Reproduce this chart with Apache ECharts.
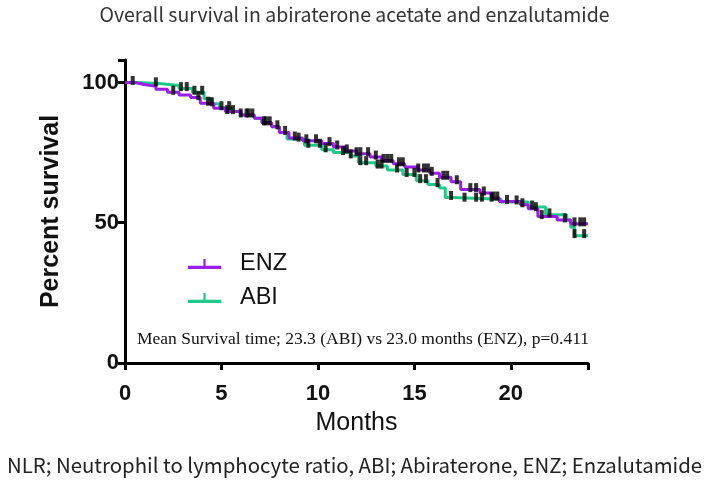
<!DOCTYPE html>
<html><head><meta charset="utf-8">
<script src="https://cdn.jsdelivr.net/npm/echarts@6/dist/echarts.min.js"></script>
<style>html,body{margin:0;padding:0;background:#fff}#c{width:709px;height:481px}</style>
</head><body><div id="c"></div>
<script>
// Kaplan-Meier step points [month, percent survival]
var enzSteps = [[0,100],[0.5,99.3],[1.0,98.6],[1.6,97.6],[2.2,96.5],[2.8,95.5],[3.4,94.6],[3.9,92.6],[4.6,90.8],[5.2,89.6],[6.0,88.4],[6.7,87.2],[7.1,85.6],[7.6,84.2],[8.0,82.2],[8.5,80.2],[9.2,79.2],[10.2,78.2],[10.8,77.0],[11.4,75.6],[12.0,74.6],[12.7,73.4],[13.3,72.2],[13.9,71.0],[14.5,69.9],[15.2,68.8],[15.8,67.6],[16.3,66.2],[16.9,64.6],[17.4,61.8],[18.4,60.6],[19.0,58.8],[19.4,57.6],[20.5,56.4],[20.9,55.0],[21.4,52.2],[22.4,51.0],[23.1,49.6],[24.0,49.6]];
var abiSteps = [[0,100],[0.7,99.5],[1.9,98.9],[2.8,97.8],[3.5,96.5],[4.1,94.2],[4.5,92.4],[4.9,91.0],[5.5,89.6],[6.0,88.4],[6.7,87.2],[7.1,85.6],[7.6,84.2],[8.0,82.2],[8.4,79.8],[9.3,77.6],[10.2,76.0],[10.8,75.0],[11.7,73.8],[12.1,71.4],[13.0,70.2],[13.6,68.8],[14.4,67.2],[15.1,65.0],[15.7,63.6],[16.3,62.4],[16.6,59.0],[17.0,58.4],[19.5,57.4],[20.9,55.6],[21.8,52.8],[22.9,51.0],[23.1,48.4],[23.3,45.4],[24.0,45.4]];
// censoring times (months)
var enzCensor = [0.4,2.5,3.8,4.3,5.3,5.6,6.0,6.3,7.2,7.5,7.9,8.8,9.4,9.9,10.6,11.0,11.5,12.0,12.2,12.6,13.0,13.4,13.6,13.8,14.2,14.4,15.2,15.5,15.7,15.9,16.5,16.7,17.2,17.9,18.2,18.6,19.1,19.3,19.8,20.6,21.3,21.6,22.8,23.3,23.6,23.8];
var abiCensor = [1.6,2.9,3.2,3.6,4.0,4.5,5.0,5.4,6.4,6.6,7.3,8.3,9.0,9.5,10.1,10.4,11.3,11.7,12.2,12.5,13.1,13.3,14.1,14.6,15.0,15.3,15.6,16.2,16.9,17.6,18.2,18.5,19.0,20.3,21.1,22.0,23.3,23.8];
var xTicks = [0,5,10,15,20];
var yTicks = [0,50,100];

function survAt(steps, t){ var v = steps[0][1]; for (var i=0;i<steps.length;i++){ if (steps[i][0] <= t) v = steps[i][1]; } return v; }
function censorPts(steps, times){ return times.map(function(t){ return [t, survAt(steps,t)]; }); }

var chart = echarts.init(document.getElementById('c'), null, {renderer:'canvas'});
var purple = '#9b1ee8', green = '#1fc98a';
var tickIcon = 'path://M0,6 L14,6 L14,0 L16,0 L16,6 L30,6 L30,9 L0,9 Z';
chart.setOption({
  animation:false,
  title:{text:'Overall survival in abiraterone acetate and enzalutamide', left:'center', top:0,
    textStyle:{fontFamily:'Noto Sans CJK JP', fontWeight:'normal', fontSize:19.5, color:'#333'}},
  legend:{orient:'vertical', left:183, top:247, itemWidth:33, itemHeight:11, itemGap:10,
    data:[{name:'ENZ', icon:tickIcon},{name:'ABI', icon:tickIcon}],
    textStyle:{fontFamily:'Liberation Sans', fontSize:23.5, color:'#111', padding:[0,0,0,14]}},
  grid:{left:125, right:121, top:60, bottom:118, containLabel:false},
  xAxis:{type:'value', min:0, max:24, interval:5,
    name:'Months', nameLocation:'middle', nameGap:48,
    nameTextStyle:{fontFamily:'Liberation Sans', fontSize:25, color:'#111'},
    axisLine:{lineStyle:{color:'#000', width:3}},
    axisTick:{length:7, lineStyle:{color:'#000', width:3}},
    axisLabel:{fontFamily:'Liberation Sans', fontWeight:'bold', fontSize:22, color:'#111', margin:20,
      formatter:function(v){ return xTicks.indexOf(v)>=0 ? String(v) : ''; }},
    splitLine:{show:false}},
  yAxis:{type:'value', min:0, max:108, interval:50,
    name:'Percent survival', nameLocation:'middle', nameGap:61,
    nameTextStyle:{fontFamily:'Liberation Sans', fontWeight:'bold', fontSize:25, color:'#111'},
    axisLine:{show:true, lineStyle:{color:'#000', width:3}},
    axisTick:{show:true, length:7, lineStyle:{color:'#000', width:3}},
    axisLabel:{fontFamily:'Liberation Sans', fontWeight:'bold', fontSize:22, color:'#111', margin:6,
      formatter:function(v){ return yTicks.indexOf(v)>=0 ? String(v) : ''; }},
    splitLine:{show:false}},
  graphic:[{type:'text', left:137, top:330,
    style:{text:'Mean Survival time; 23.3 (ABI) vs 23.0 months (ENZ), p=0.411', fontFamily:'Liberation Serif', fontSize:17.5, fill:'#111'}},
    {type:'text', left:'center', top:455,
    style:{text:'NLR; Neutrophil to lymphocyte ratio, ABI; Abiraterone, ENZ; Enzalutamide', fontFamily:'Noto Sans CJK JP', fontSize:20.4, fill:'#222'}}],
  series:[
    {name:'ABI', type:'line', step:'end', data:abiSteps, showSymbol:false, color:green, lineStyle:{width:3, color:green}, z:2},
    {name:'ENZ', type:'line', step:'end', data:enzSteps, showSymbol:false, color:purple, lineStyle:{width:3, color:purple}, z:3},
    {name:'abiCens', type:'scatter', data:censorPts(abiSteps, abiCensor), symbol:'rect', symbolSize:[4,9], symbolOffset:[0,-2], itemStyle:{color:'#000'}, z:5},
    {name:'enzCens', type:'scatter', data:censorPts(enzSteps, enzCensor), symbol:'rect', symbolSize:[4,9], symbolOffset:[0,-2], itemStyle:{color:'#000'}, z:5}
  ]
});
</script></body></html>
